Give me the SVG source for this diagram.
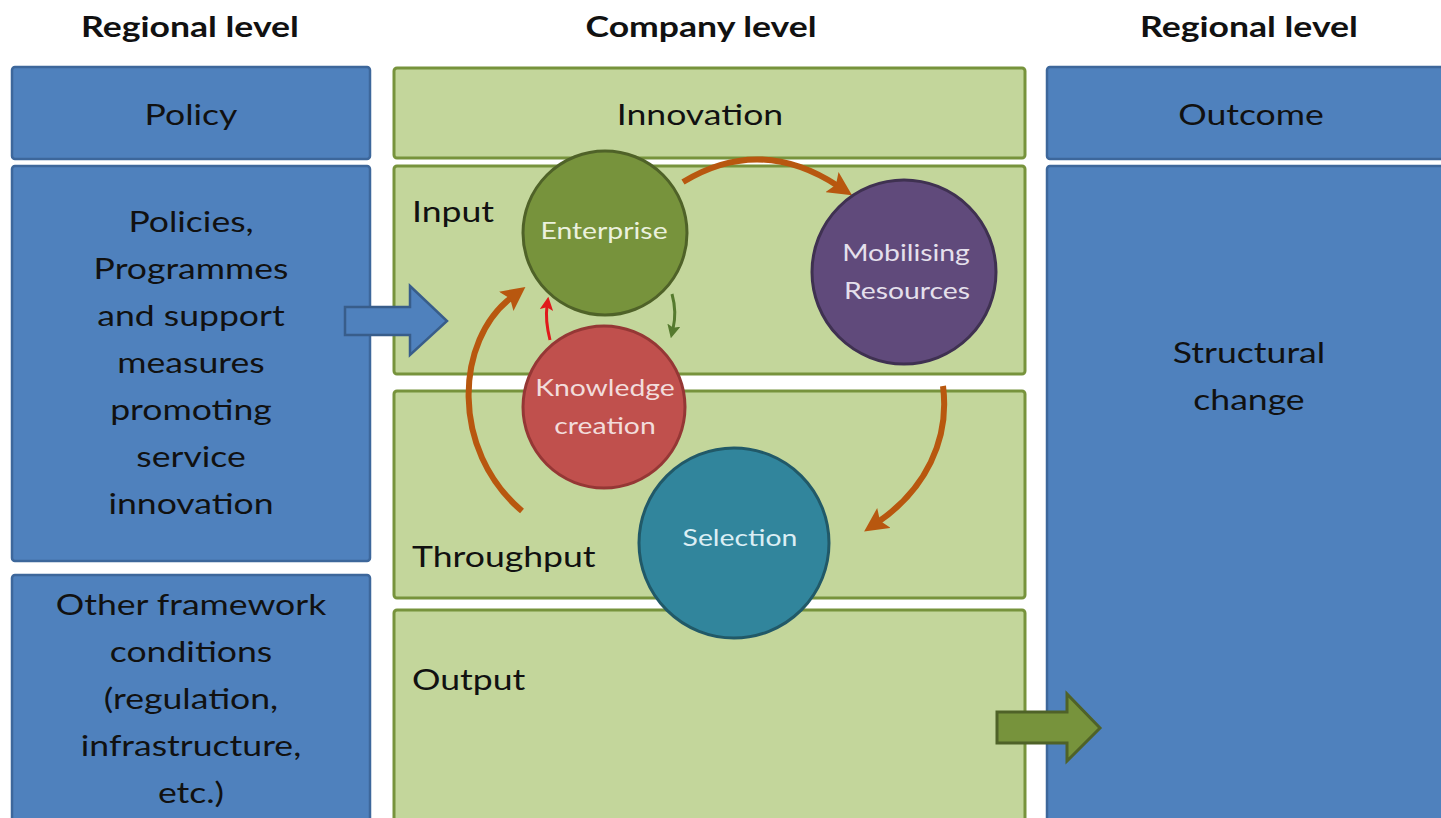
<svg xmlns="http://www.w3.org/2000/svg" width="1441" height="818" viewBox="0 0 1441 818">
<style>
.bb{fill:#4f81bd;stroke:#3d679b;stroke-width:2.5}
.gb{fill:#c3d69b;stroke:#77933c;stroke-width:3}
.t{font-family:Lato,"Open Sans","Liberation Sans",sans-serif;font-size:28px;fill:#111;text-anchor:middle}
.tl{text-anchor:start}
.h{font-weight:bold}
.c{font-size:22.5px}
.arc{fill:none;stroke:#b8570f;stroke-width:6}
</style>
<defs>
<marker id="mb" viewBox="0 0 10 10" refX="3" refY="5" markerWidth="4" markerHeight="4" orient="auto" markerUnits="strokeWidth">
<path d="M0,0 L10,5 L0,10 L2,5 z" fill="#b8570f"/>
</marker>
<marker id="mr" viewBox="0 0 10 10" refX="3" refY="5" markerWidth="4.5" markerHeight="4.5" orient="auto" markerUnits="strokeWidth">
<path d="M0,0 L10,5 L0,10 L2,5 z" fill="#e0191b"/>
</marker>
<marker id="mg" viewBox="0 0 10 10" refX="3" refY="5" markerWidth="4.5" markerHeight="4.5" orient="auto" markerUnits="strokeWidth">
<path d="M0,0 L10,5 L0,10 L2,5 z" fill="#557a2e"/>
</marker>
</defs>
<rect width="1441" height="818" fill="#fff"/>

<g id="titles">
<text class="t h" transform="translate(190 37) scale(1.27 1)">Regional level</text>
<text class="t h" transform="translate(701 37) scale(1.27 1)">Company level</text>
<text class="t h" transform="translate(1249 37) scale(1.27 1)">Regional level</text>
</g>

<g id="policy"><rect class="bb" x="12" y="67" width="358" height="92" rx="3"/>
<text class="t" transform="translate(191 125) scale(1.27 1)">Policy</text></g>

<g id="policies"><rect class="bb" x="12" y="166" width="358" height="395" rx="3"/>
<text class="t" transform="translate(191 232) scale(1.27 1)">Policies,</text>
<text class="t" transform="translate(191 279) scale(1.27 1)">Programmes</text>
<text class="t" transform="translate(191 326) scale(1.27 1)">and support</text>
<text class="t" transform="translate(191 373) scale(1.27 1)">measures</text>
<text class="t" transform="translate(191 420) scale(1.27 1)">promoting</text>
<text class="t" transform="translate(191 467) scale(1.27 1)">service</text>
<text class="t" transform="translate(191 514) scale(1.27 1)">innovation</text></g>

<g id="framework"><rect class="bb" x="12" y="575" width="358" height="260" rx="3"/>
<text class="t" transform="translate(191 615) scale(1.27 1)">Other framework</text>
<text class="t" transform="translate(191 662) scale(1.27 1)">conditions</text>
<text class="t" transform="translate(191 709) scale(1.27 1)">(regulation,</text>
<text class="t" transform="translate(191 756) scale(1.27 1)">infrastructure,</text>
<text class="t" transform="translate(191 803) scale(1.27 1)">etc.)</text></g>

<g id="innovation"><rect class="gb" x="394" y="68" width="631" height="90" rx="3"/>
<text class="t" transform="translate(700 125) scale(1.27 1)">Innovation</text></g>

<g id="input"><rect class="gb" x="394" y="166" width="631" height="208" rx="3"/>
<text class="t tl" transform="translate(412 222) scale(1.27 1)">Input</text></g>

<g id="throughput"><rect class="gb" x="394" y="391" width="631" height="207" rx="3"/>
<text class="t tl" transform="translate(412 567) scale(1.27 1)">Throughput</text></g>

<g id="output"><rect class="gb" x="394" y="610" width="631" height="225" rx="3"/>
<text class="t tl" transform="translate(412 690) scale(1.27 1)">Output</text></g>

<g id="outcome"><rect class="bb" x="1047" y="67" width="420" height="92" rx="3"/>
<text class="t" transform="translate(1251 125) scale(1.27 1)">Outcome</text></g>

<g id="structural"><rect class="bb" x="1047" y="166" width="420" height="670" rx="3"/>
<text class="t" transform="translate(1249 363) scale(1.27 1)">Structural</text>
<text class="t" transform="translate(1249 410) scale(1.27 1)">change</text></g>

<g id="connectors">
<path class="arc" d="M683 182 Q760 135 838 186" marker-end="url(#mb)"/>
<path class="arc" d="M943 386 C950 440 925 490 878 522" marker-end="url(#mb)"/>
<path class="arc" d="M522 511 C450 450 455 340 512 297" marker-end="url(#mb)"/>
<path d="M550 340 Q545 320 547 306" fill="none" stroke="#e0191b" stroke-width="3" marker-end="url(#mr)"/>
<path d="M672 294 Q677 312 673 329" fill="none" stroke="#557a2e" stroke-width="3" marker-end="url(#mg)"/>
<polygon points="345,307 410,307 410,286 447,321 410,355 410,335 345,335" fill="#4f81bd" stroke="#385d8a" stroke-width="2.5"/>
<polygon points="997,712 1067,712 1067,694 1100,728 1067,761 1067,743 997,743" fill="#77933c" stroke="#4f6228" stroke-width="3"/>
</g>

<g id="enterprise"><circle cx="605" cy="233" r="82" fill="#77933c" stroke="#4f6228" stroke-width="3"/>
<text class="t c" style="fill:#ebf1de" transform="translate(604 239) scale(1.26 1)">Enterprise</text></g>

<g id="mobilising"><circle cx="904" cy="272" r="92" fill="#604a7b" stroke="#3f3151" stroke-width="3"/>
<text class="t c" style="fill:#e5e0ec" transform="translate(906 261) scale(1.26 1)">Mobilising</text>
<text class="t c" style="fill:#e5e0ec" transform="translate(907 299) scale(1.26 1)">Resources</text></g>

<g id="knowledge"><circle cx="604" cy="407" r="81" fill="#c0504d" stroke="#953735" stroke-width="3"/>
<text class="t c" style="fill:#f2dcdb" transform="translate(605 396) scale(1.26 1)">Knowledge</text>
<text class="t c" style="fill:#f2dcdb" transform="translate(605 434) scale(1.26 1)">creation</text></g>

<g id="selection"><circle cx="734" cy="543" r="95" fill="#31859c" stroke="#215968" stroke-width="3"/>
<text class="t c" style="fill:#dbeef4" transform="translate(740 546) scale(1.26 1)">Selection</text></g>
</svg>
